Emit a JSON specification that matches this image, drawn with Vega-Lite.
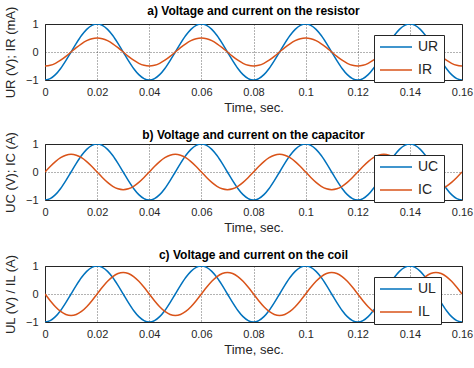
{
  "$schema": "https://vega.github.io/schema/vega-lite/v6.json",
  "padding": {"left": 3, "top": 4, "right": 0, "bottom": 0},
  "background": "white",
  "spacing": 13,
  "data": {"values": [
    {"t":0,"U":-1,"IR":-0.5,"IC":0,"IL":0},
    {"t":0.002,"U":-0.951,"IR":-0.476,"IC":0.195,"IL":-0.238},
    {"t":0.004,"U":-0.809,"IR":-0.405,"IC":0.37,"IL":-0.453},
    {"t":0.006,"U":-0.588,"IR":-0.294,"IC":0.51,"IL":-0.623},
    {"t":0.008,"U":-0.309,"IR":-0.155,"IC":0.599,"IL":-0.732},
    {"t":0.01,"U":0,"IR":0,"IC":0.63,"IL":-0.77},
    {"t":0.012,"U":0.309,"IR":0.155,"IC":0.599,"IL":-0.732},
    {"t":0.014,"U":0.588,"IR":0.294,"IC":0.51,"IL":-0.623},
    {"t":0.016,"U":0.809,"IR":0.405,"IC":0.37,"IL":-0.453},
    {"t":0.018,"U":0.951,"IR":0.476,"IC":0.195,"IL":-0.238},
    {"t":0.02,"U":1,"IR":0.5,"IC":0,"IL":0},
    {"t":0.022,"U":0.951,"IR":0.476,"IC":-0.195,"IL":0.238},
    {"t":0.024,"U":0.809,"IR":0.405,"IC":-0.37,"IL":0.453},
    {"t":0.026,"U":0.588,"IR":0.294,"IC":-0.51,"IL":0.623},
    {"t":0.028,"U":0.309,"IR":0.155,"IC":-0.599,"IL":0.732},
    {"t":0.03,"U":0,"IR":0,"IC":-0.63,"IL":0.77},
    {"t":0.032,"U":-0.309,"IR":-0.155,"IC":-0.599,"IL":0.732},
    {"t":0.034,"U":-0.588,"IR":-0.294,"IC":-0.51,"IL":0.623},
    {"t":0.036,"U":-0.809,"IR":-0.405,"IC":-0.37,"IL":0.453},
    {"t":0.038,"U":-0.951,"IR":-0.476,"IC":-0.195,"IL":0.238},
    {"t":0.04,"U":-1,"IR":-0.5,"IC":0,"IL":0},
    {"t":0.042,"U":-0.951,"IR":-0.476,"IC":0.195,"IL":-0.238},
    {"t":0.044,"U":-0.809,"IR":-0.405,"IC":0.37,"IL":-0.453},
    {"t":0.046,"U":-0.588,"IR":-0.294,"IC":0.51,"IL":-0.623},
    {"t":0.048,"U":-0.309,"IR":-0.155,"IC":0.599,"IL":-0.732},
    {"t":0.05,"U":0,"IR":0,"IC":0.63,"IL":-0.77},
    {"t":0.052,"U":0.309,"IR":0.155,"IC":0.599,"IL":-0.732},
    {"t":0.054,"U":0.588,"IR":0.294,"IC":0.51,"IL":-0.623},
    {"t":0.056,"U":0.809,"IR":0.405,"IC":0.37,"IL":-0.453},
    {"t":0.058,"U":0.951,"IR":0.476,"IC":0.195,"IL":-0.238},
    {"t":0.06,"U":1,"IR":0.5,"IC":0,"IL":0},
    {"t":0.062,"U":0.951,"IR":0.476,"IC":-0.195,"IL":0.238},
    {"t":0.064,"U":0.809,"IR":0.405,"IC":-0.37,"IL":0.453},
    {"t":0.066,"U":0.588,"IR":0.294,"IC":-0.51,"IL":0.623},
    {"t":0.068,"U":0.309,"IR":0.155,"IC":-0.599,"IL":0.732},
    {"t":0.07,"U":0,"IR":0,"IC":-0.63,"IL":0.77},
    {"t":0.072,"U":-0.309,"IR":-0.155,"IC":-0.599,"IL":0.732},
    {"t":0.074,"U":-0.588,"IR":-0.294,"IC":-0.51,"IL":0.623},
    {"t":0.076,"U":-0.809,"IR":-0.405,"IC":-0.37,"IL":0.453},
    {"t":0.078,"U":-0.951,"IR":-0.476,"IC":-0.195,"IL":0.238},
    {"t":0.08,"U":-1,"IR":-0.5,"IC":0,"IL":0},
    {"t":0.082,"U":-0.951,"IR":-0.476,"IC":0.195,"IL":-0.238},
    {"t":0.084,"U":-0.809,"IR":-0.405,"IC":0.37,"IL":-0.453},
    {"t":0.086,"U":-0.588,"IR":-0.294,"IC":0.51,"IL":-0.623},
    {"t":0.088,"U":-0.309,"IR":-0.155,"IC":0.599,"IL":-0.732},
    {"t":0.09,"U":0,"IR":0,"IC":0.63,"IL":-0.77},
    {"t":0.092,"U":0.309,"IR":0.155,"IC":0.599,"IL":-0.732},
    {"t":0.094,"U":0.588,"IR":0.294,"IC":0.51,"IL":-0.623},
    {"t":0.096,"U":0.809,"IR":0.405,"IC":0.37,"IL":-0.453},
    {"t":0.098,"U":0.951,"IR":0.476,"IC":0.195,"IL":-0.238},
    {"t":0.1,"U":1,"IR":0.5,"IC":0,"IL":0},
    {"t":0.102,"U":0.951,"IR":0.476,"IC":-0.195,"IL":0.238},
    {"t":0.104,"U":0.809,"IR":0.405,"IC":-0.37,"IL":0.453},
    {"t":0.106,"U":0.588,"IR":0.294,"IC":-0.51,"IL":0.623},
    {"t":0.108,"U":0.309,"IR":0.155,"IC":-0.599,"IL":0.732},
    {"t":0.11,"U":0,"IR":0,"IC":-0.63,"IL":0.77},
    {"t":0.112,"U":-0.309,"IR":-0.155,"IC":-0.599,"IL":0.732},
    {"t":0.114,"U":-0.588,"IR":-0.294,"IC":-0.51,"IL":0.623},
    {"t":0.116,"U":-0.809,"IR":-0.405,"IC":-0.37,"IL":0.453},
    {"t":0.118,"U":-0.951,"IR":-0.476,"IC":-0.195,"IL":0.238},
    {"t":0.12,"U":-1,"IR":-0.5,"IC":0,"IL":0},
    {"t":0.122,"U":-0.951,"IR":-0.476,"IC":0.195,"IL":-0.238},
    {"t":0.124,"U":-0.809,"IR":-0.405,"IC":0.37,"IL":-0.453},
    {"t":0.126,"U":-0.588,"IR":-0.294,"IC":0.51,"IL":-0.623},
    {"t":0.128,"U":-0.309,"IR":-0.155,"IC":0.599,"IL":-0.732},
    {"t":0.13,"U":0,"IR":0,"IC":0.63,"IL":-0.77},
    {"t":0.132,"U":0.309,"IR":0.155,"IC":0.599,"IL":-0.732},
    {"t":0.134,"U":0.588,"IR":0.294,"IC":0.51,"IL":-0.623},
    {"t":0.136,"U":0.809,"IR":0.405,"IC":0.37,"IL":-0.453},
    {"t":0.138,"U":0.951,"IR":0.476,"IC":0.195,"IL":-0.238},
    {"t":0.14,"U":1,"IR":0.5,"IC":0,"IL":0},
    {"t":0.142,"U":0.951,"IR":0.476,"IC":-0.195,"IL":0.238},
    {"t":0.144,"U":0.809,"IR":0.405,"IC":-0.37,"IL":0.453},
    {"t":0.146,"U":0.588,"IR":0.294,"IC":-0.51,"IL":0.623},
    {"t":0.148,"U":0.309,"IR":0.155,"IC":-0.599,"IL":0.732},
    {"t":0.15,"U":0,"IR":0,"IC":-0.63,"IL":0.77},
    {"t":0.152,"U":-0.309,"IR":-0.155,"IC":-0.599,"IL":0.732},
    {"t":0.154,"U":-0.588,"IR":-0.294,"IC":-0.51,"IL":0.623},
    {"t":0.156,"U":-0.809,"IR":-0.405,"IC":-0.37,"IL":0.453},
    {"t":0.158,"U":-0.951,"IR":-0.476,"IC":-0.195,"IL":0.238},
    {"t":0.16,"U":-1,"IR":-0.5,"IC":0,"IL":0}
  ]},
  "resolve": {"scale": {"color": "independent"}, "legend": {"color": "independent"}},
  "vconcat": [
    {
      "width": 417, "height": 56,
      "title": {"text": "a) Voltage and current on the resistor", "offset": -12},
      "transform": [{"fold": ["U", "IR"], "as": ["s", "v"]}],
      "mark": {"type": "line", "interpolate": "monotone", "strokeWidth": 1.5, "clip": true},
      "encoding": {
        "x": {"field": "t", "type": "quantitative", "title": "Time, sec.", "scale": {"domain": [0, 0.16], "nice": false}, "axis": {"values": [0,0.02,0.04,0.06,0.08,0.1,0.12,0.14,0.16], "format": "~g"}},
        "y": {"field": "v", "type": "quantitative", "title": "UR (V); IR (mA)", "scale": {"domain": [-1, 1], "nice": false}, "axis": {"values": [-1, 0, 1], "format": "~g"}},
        "color": {"field": "s", "type": "nominal", "scale": {"domain": ["U", "IR"], "range": ["#0072BD", "#D95319"]}, "legend": {"labelExpr": "datum.label == 'U' ? 'UR' : 'IR'"}}
      }
    },
    {
      "width": 417, "height": 56,
      "title": {"text": "b) Voltage and current on the capacitor", "offset": -10},
      "transform": [{"fold": ["U", "IC"], "as": ["s", "v"]}],
      "mark": {"type": "line", "interpolate": "monotone", "strokeWidth": 1.5, "clip": true},
      "encoding": {
        "x": {"field": "t", "type": "quantitative", "title": "Time, sec.", "scale": {"domain": [0, 0.16], "nice": false}, "axis": {"values": [0,0.02,0.04,0.06,0.08,0.1,0.12,0.14,0.16], "format": "~g"}},
        "y": {"field": "v", "type": "quantitative", "title": "UC (V); IC (A)", "scale": {"domain": [-1, 1], "nice": false}, "axis": {"values": [-1, 0, 1], "format": "~g"}},
        "color": {"field": "s", "type": "nominal", "scale": {"domain": ["U", "IC"], "range": ["#0072BD", "#D95319"]}, "legend": {"labelExpr": "datum.label == 'U' ? 'UC' : 'IC'"}}
      }
    },
    {
      "width": 417, "height": 56,
      "title": {"text": "c) Voltage and current on the coil", "offset": -8},
      "transform": [{"fold": ["U", "IL"], "as": ["s", "v"]}],
      "mark": {"type": "line", "interpolate": "monotone", "strokeWidth": 1.5, "clip": true},
      "encoding": {
        "x": {"field": "t", "type": "quantitative", "title": "Time, sec.", "scale": {"domain": [0, 0.16], "nice": false}, "axis": {"values": [0,0.02,0.04,0.06,0.08,0.1,0.12,0.14,0.16], "format": "~g"}},
        "y": {"field": "v", "type": "quantitative", "title": "UL (V) / IL (A)", "scale": {"domain": [-1, 1], "nice": false}, "axis": {"values": [-1, 0, 1], "format": "~g"}},
        "color": {"field": "s", "type": "nominal", "scale": {"domain": ["U", "IL"], "range": ["#0072BD", "#D95319"]}, "legend": {"labelExpr": "datum.label == 'U' ? 'UL' : 'IL'"}}
      }
    }
  ],
  "config": {
    "font": "Liberation Sans",
    "view": {"stroke": "#262626", "strokeWidth": 1},
    "title": {"fontSize": 12, "fontWeight": "bold", "color": "#000000", "anchor": "middle"},
    "axis": {
      "domain": false,
      "ticks": false,
      "grid": true,
      "gridColor": "#262626",
      "gridDash": [1, 2],
      "gridOpacity": 0.7,
      "labelFontSize": 11,
      "labelColor": "#262626",
      "titleFontSize": 13,
      "titleFontWeight": "normal",
      "titleColor": "#262626",
      "labelFlush": false,
      "labelBound": false,
      "labelOverlap": false
    },
    "axisX": {"labelPadding": 6, "titlePadding": 4},
    "axisY": {"labelPadding": 7, "titlePadding": 8},
    "legend": {
      "orient": "none",
      "legendX": 329,
      "legendY": 11,
      "title": null,
      "fillColor": "white",
      "strokeColor": "#262626",
      "padding": 5,
      "symbolType": "stroke",
      "symbolSize": 1024,
      "symbolStrokeWidth": 1.5,
      "clipHeight": 14,
      "labelFontSize": 14,
      "labelColor": "#262626",
      "rowPadding": 9,
      "labelOffset": 5
    }
  }
}
